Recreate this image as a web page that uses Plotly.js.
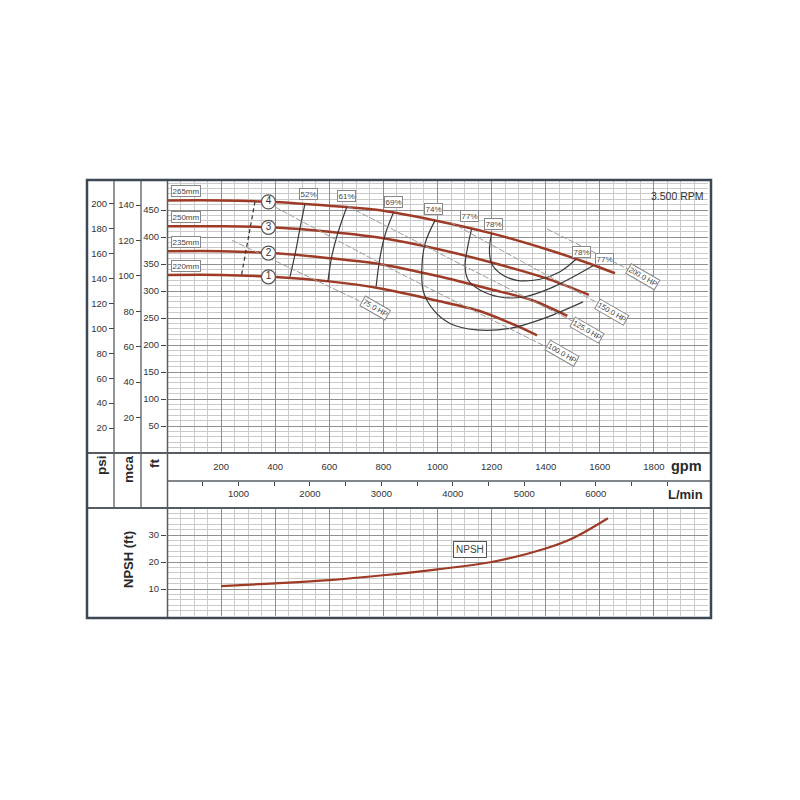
<!DOCTYPE html>
<html><head><meta charset="utf-8">
<script src="https://cdn.plot.ly/plotly-3.0.1.min.js"></script>
<style>html,body{margin:0;padding:0;background:#fff}#chart{width:800px;height:800px}</style>
</head><body><div id="chart"></div>
<script>
// ---------------- DATA ----------------
// Head curves: flow (gpm) vs head (ft)
const q265 = [0, 200, 400, 600, 800, 1000, 1200, 1400, 1550, 1656];
const h265 = [468, 468, 465, 458, 449, 430, 407, 378, 353, 333];
const q250 = [0, 200, 400, 600, 800, 1000, 1200, 1400, 1560];
const h250 = [420, 420, 418, 410, 398, 378, 353, 324, 293];
const q235 = [0, 200, 400, 600, 800, 1000, 1200, 1350, 1480];
const h235 = [374, 374, 370, 361, 349, 328, 303, 283, 254];
const q220 = [0, 200, 400, 600, 800, 1000, 1150, 1300, 1368];
const h220 = [330, 330, 326, 318, 304, 282, 264, 234, 218];
const diameterLabels = ['265mm', '250mm', '235mm', '220mm'];
const curveNumbers = ['4', '3', '2', '1'];

// Iso-efficiency curves
const eff52Q = [510, 492, 474, 455];          const eff52H = [462, 417, 370, 327];
const eff61Q = [664, 633, 609, 595];          const eff61H = [455, 410, 364, 318];
const eff69Q = [837, 806, 787, 773];          const eff69H = [445, 404, 361, 308];
const eff74Q = [991, 954, 942, 948, 985, 1046, 1145, 1268, 1391, 1538];
const eff74H = [431, 388, 339, 299, 265, 240, 228, 231, 249, 280];
const eff77Q = [1126, 1114, 1102, 1114, 1157, 1231, 1317, 1416, 1575];
const eff77H = [415, 388, 345, 320, 302, 289, 289, 305, 347];
const eff78Q = [1200, 1192, 1200, 1231, 1293, 1379, 1453, 1512];
const eff78H = [407, 376, 351, 333, 320, 322, 336, 359];
const effLabels = ['52%', '61%', '69%', '74%', '77%', '78%', '78%', '77%'];
const effLabelQ = [522, 664, 839, 984, 1120, 1206, 1533, 1619];
const effLabelH = [480, 476, 465, 452, 439, 425, 373, 359];

// Power lines (HP)
const hp75Q = [240, 710];            const hp75H = [394, 282];
const hp100Q = [399, 861, 1397];     const hp100H = [456, 333, 198];
const hp125Q = [669, 898, 1500];     const hp125H = [457, 398, 244];
const hp150Q = [1046, 1592];         const hp150H = [428, 278];
const hp200Q = [1405, 1704];         const hp200H = [415, 341];
const hpLabels = ['75.0 HP', '100.0 HP', '125.0 HP', '150.0 HP', '200.0 HP'];
const hpLabelQ = [769, 1459, 1552, 1644, 1761];
const hpLabelH = [268, 185, 228, 262, 327];

// Minimum flow (dashed)
const minQ = [276, 325];
const minH = [331, 465];

// NPSH required (gpm, ft)
const npshQ = [200, 400, 600, 800, 1000, 1200, 1400, 1500, 1630];
const npshH = [11.1, 12.1, 13.3, 15.1, 17.3, 20.0, 25.0, 28.8, 36.2];

// Tick labels
const gpmTicks = [200, 400, 600, 800, 1000, 1200, 1400, 1600, 1800];
const lminTicks = [500, 1000, 1500, 2000, 2500, 3000, 3500, 4000, 4500, 5000, 5500, 6000, 6500, 7000];
const lminLabels = ['', '1000', '', '2000', '', '3000', '', '4000', '', '5000', '', '6000', '', ''];
const ftTicks = [50, 100, 150, 200, 250, 300, 350, 400, 450];
const psiTicks = [20, 40, 60, 80, 100, 120, 140, 160, 180, 200];
const mcaTicks = [20, 40, 60, 80, 100, 120, 140];
const npshTicks = [10, 20, 30];

// ---------------- RENDER ----------------
const px = x => x / 800, py = y => 1 - y / 800;
const XD = [px(167), px(708)];
const FT_MAX = 504, GPM_MAX = 2000;
const FT_PER_PSI = 2.31, FT_PER_M = 3.281, LPM_PER_GPM = 3.78541;
const headColor = '#9e3b26', effColor = '#3a3a3a', hpColor = '#9a9a9a';
const majorGrid = '#8f8f8f', minorGrid = '#cacaca';
const FONT = 'Arial, "Liberation Sans", sans-serif';

function interp(xs, ys, x) {
  for (let i = 0; i < xs.length - 1; i++) {
    if (x >= xs[i] && x <= xs[i + 1]) {
      const t = (x - xs[i]) / (xs[i + 1] - xs[i]);
      return ys[i] + t * (ys[i + 1] - ys[i]);
    }
  }
  return ys[ys.length - 1];
}

const traces = [];
const heads = [[q265, h265], [q250, h250], [q235, h235], [q220, h220]];
heads.forEach(([q, h]) => traces.push({
  x: q, y: h, type: 'scatter', mode: 'lines', xaxis: 'x', yaxis: 'y', hoverinfo: 'skip',
  line: {color: headColor, width: 2.5, shape: 'spline', smoothing: 0.8}
}));
[[eff52Q, eff52H], [eff61Q, eff61H], [eff69Q, eff69H], [eff74Q, eff74H], [eff77Q, eff77H], [eff78Q, eff78H]]
  .forEach(([q, h]) => traces.push({
    x: q, y: h, type: 'scatter', mode: 'lines', xaxis: 'x', yaxis: 'y', hoverinfo: 'skip',
    line: {color: effColor, width: 1.2, shape: 'spline', smoothing: 1}
  }));
[[hp75Q, hp75H], [hp100Q, hp100H], [hp125Q, hp125H], [hp150Q, hp150H], [hp200Q, hp200H]]
  .forEach(([q, h]) => traces.push({
    x: q, y: h, type: 'scatter', mode: 'lines', xaxis: 'x', yaxis: 'y', hoverinfo: 'skip',
    line: {color: hpColor, width: 1, dash: '6px,2px', shape: 'spline'}
  }));
traces.push({x: minQ, y: minH, type: 'scatter', mode: 'lines', xaxis: 'x', yaxis: 'y', hoverinfo: 'skip',
  line: {color: '#333', width: 1.2, dash: '4px,3px'}});
// numbered circles on head curves
const circleQ = 375;
traces.push({
  x: heads.map(() => circleQ), y: heads.map(([q, h]) => interp(q, h, circleQ)),
  type: 'scatter', mode: 'markers+text', xaxis: 'x', yaxis: 'y', hoverinfo: 'skip',
  text: curveNumbers, textposition: 'middle center',
  textfont: {family: FONT, size: 10, color: '#333'},
  marker: {size: 14, color: '#fff', line: {color: '#555', width: 1.2}}
});
// NPSH
traces.push({x: npshQ, y: npshH, type: 'scatter', mode: 'lines', xaxis: 'x3', yaxis: 'y4', hoverinfo: 'skip',
  line: {color: headColor, width: 2.2, shape: 'spline'}});

const annotations = [];
heads.forEach(([q, h], i) => annotations.push({
  x: 14, y: h[0], xref: 'x', yref: 'y', xanchor: 'left', yanchor: 'middle', yshift: 9,
  text: diameterLabels[i], showarrow: false, font: {family: FONT, size: 8, color: '#444'},
  bgcolor: '#fff', bordercolor: '#888', borderwidth: 1, borderpad: 0.5
}));
effLabels.forEach((t, i) => annotations.push({
  x: effLabelQ[i], y: effLabelH[i], xref: 'x', yref: 'y', xanchor: 'center', yanchor: 'middle',
  text: t, showarrow: false,
  font: {family: FONT, size: 8, color: '#444'}, bgcolor: '#fff', bordercolor: '#888', borderwidth: 1, borderpad: 0.5
}));
hpLabels.forEach((t, i) => annotations.push({
  x: hpLabelQ[i], y: hpLabelH[i], xref: 'x', yref: 'y', xanchor: 'center', yanchor: 'middle',
  text: t, showarrow: false, textangle: 30,
  font: {family: FONT, size: 7.5, color: '#444'}, bgcolor: '#fff', bordercolor: '#888', borderwidth: 1, borderpad: 0.5
}));
annotations.push({x: 1120, y: 24.8, xref: 'x3', yref: 'y4', xanchor: 'center', yanchor: 'middle', text: 'NPSH',
  showarrow: false,
  font: {family: FONT, size: 10, color: '#444'}, bgcolor: '#fff', bordercolor: '#555', borderwidth: 1, borderpad: 2});
annotations.push({x: px(706), y: py(196), xref: 'paper', yref: 'paper', xanchor: 'right', yanchor: 'middle',
  text: '3.500 RPM', showarrow: false, font: {family: FONT, size: 10.5, color: '#333'}});
const boldLab = (t, x, y, size, angle) => annotations.push({x: px(x), y: py(y), xref: 'paper', yref: 'paper',
  xanchor: 'center', yanchor: 'middle',
  text: t, showarrow: false, textangle: angle, font: {family: FONT, size: size, color: '#2a2a2a', weight: 'bold'}});
boldLab('psi', 101, 465, 13.5, -90);
boldLab('mca', 128, 469, 13.5, -90);
boldLab('ft', 155, 464, 13.5, -90);
boldLab('NPSH (ft)', 128, 560, 13, -90);
boldLab('gpm', 686, 466, 14.5, 0);
boldLab('L/min', 685, 494, 13, 0);

const lineShape = (x0, y0, x1, y1, w, c) => ({type: 'line', xref: 'paper', yref: 'paper', layer: 'above',
  x0: px(x0), y0: py(y0), x1: px(x1), y1: py(y1), line: {color: c, width: w}});
const frameC = '#3e4852', sepC = '#555c63';
const shapes = [
  lineShape(114, 180, 114, 508, 1.3, sepC),
  lineShape(141, 180, 141, 508, 1.3, sepC),
  lineShape(167.5, 180, 167.5, 618, 1.5, sepC),
  lineShape(87, 453, 711, 453, 2, sepC),
  lineShape(167.5, 481, 711, 481, 1.3, sepC),
  lineShape(87, 508, 711, 508, 2, sepC),
  {type: 'rect', xref: 'paper', yref: 'paper', layer: 'above', x0: px(87), y0: py(618), x1: px(711), y1: py(180),
    line: {color: frameC, width: 2.5}}
];

const tickFont = {family: FONT, size: 9.5, color: '#333'};
const gridX = {showgrid: true, gridcolor: majorGrid, gridwidth: 1,
  minor: {tickmode: 'linear', tick0: 0, dtick: 50, showgrid: true, gridcolor: minorGrid, gridwidth: 1}};
const layout = {
  width: 800, height: 800, margin: {l: 0, r: 0, t: 0, b: 0},
  paper_bgcolor: '#fff', plot_bgcolor: '#fff', showlegend: false,
  xaxis: Object.assign({domain: XD, range: [0, GPM_MAX], anchor: 'y', tickmode: 'array', tickvals: gpmTicks,
    ticks: '', tickfont: tickFont, zeroline: false, showline: false, ticklabelstandoff: 6}, gridX),
  yaxis: {domain: [py(453), py(181)], range: [0, FT_MAX], anchor: 'x', tickmode: 'array', tickvals: ftTicks,
    ticks: 'outside', ticklen: 5, tickcolor: '#444', tickfont: tickFont, zeroline: false, showline: false,
    showgrid: true, gridcolor: majorGrid, gridwidth: 1,
    minor: {tickmode: 'linear', tick0: 0, dtick: 10, showgrid: true, gridcolor: minorGrid, gridwidth: 1}},
  yaxis2: {overlaying: 'y', anchor: 'free', position: px(114), side: 'left', range: [0, FT_MAX / FT_PER_PSI],
    tickmode: 'array', tickvals: psiTicks, ticks: 'outside', ticklen: 5, tickcolor: '#444', tickfont: tickFont,
    showgrid: false, zeroline: false, showline: false},
  yaxis3: {overlaying: 'y', anchor: 'free', position: px(141), side: 'left', range: [0, FT_MAX / FT_PER_M],
    tickmode: 'array', tickvals: mcaTicks, ticks: 'outside', ticklen: 5, tickcolor: '#444', tickfont: tickFont,
    showgrid: false, zeroline: false, showline: false},
  xaxis2: {overlaying: 'x', anchor: 'free', position: py(481), side: 'bottom', range: [0, GPM_MAX * LPM_PER_GPM],
    tickmode: 'array', tickvals: lminTicks, ticktext: lminLabels, ticks: 'outside', ticklen: 4, tickcolor: '#444',
    tickfont: tickFont, showgrid: false, zeroline: false, showline: false},
  xaxis3: Object.assign({domain: XD, range: [0, GPM_MAX], anchor: 'y4', tickmode: 'array', tickvals: gpmTicks,
    showticklabels: false, ticks: '', zeroline: false, showline: false}, gridX),
  yaxis4: {domain: [py(616), py(508)], range: [0, 40], anchor: 'x3', tickmode: 'array', tickvals: npshTicks,
    ticks: 'outside', ticklen: 5, tickcolor: '#444', tickfont: tickFont, zeroline: false, showline: false,
    showgrid: true, gridcolor: majorGrid, gridwidth: 1,
    minor: {tickmode: 'linear', tick0: 0, dtick: 2, showgrid: true, gridcolor: minorGrid, gridwidth: 1}},
  annotations: annotations, shapes: shapes
};
// dummy invisible traces so overlay axes are drawn
traces.push({x: [0], y: [0], xaxis: 'x2', yaxis: 'y', type: 'scatter', mode: 'markers', marker: {opacity: 0}, hoverinfo: 'skip'});
traces.push({x: [0], y: [0], xaxis: 'x', yaxis: 'y2', type: 'scatter', mode: 'markers', marker: {opacity: 0}, hoverinfo: 'skip'});
traces.push({x: [0], y: [0], xaxis: 'x', yaxis: 'y3', type: 'scatter', mode: 'markers', marker: {opacity: 0}, hoverinfo: 'skip'});

Plotly.newPlot('chart', traces, layout, {staticPlot: true});
</script></body></html>
